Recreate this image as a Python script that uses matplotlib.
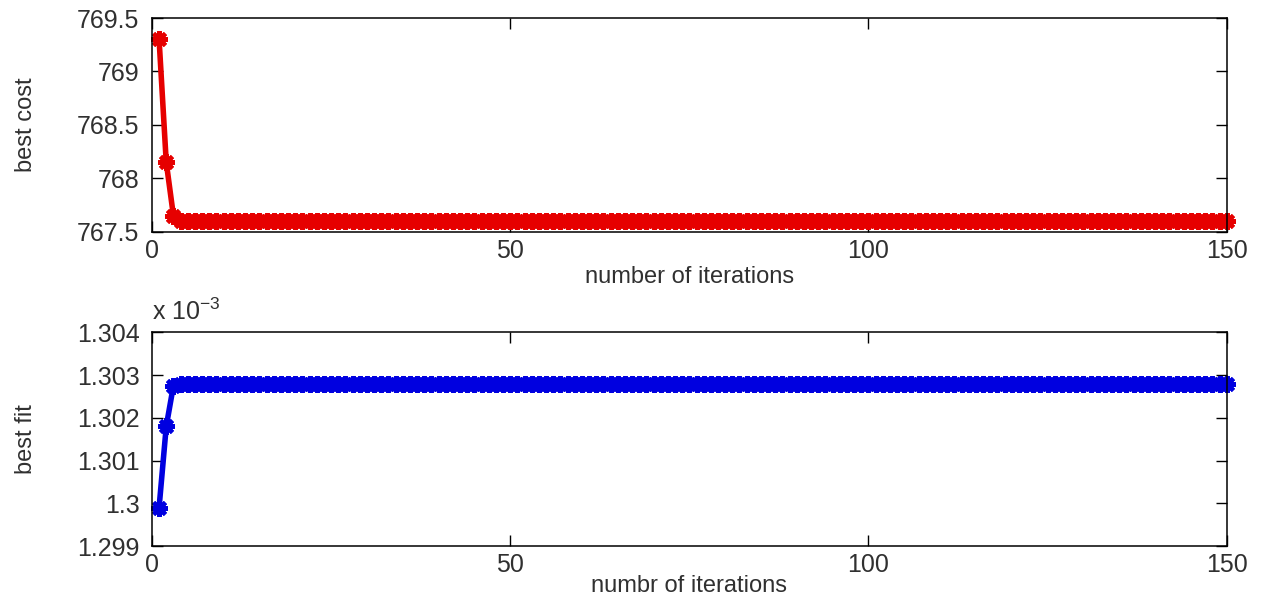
import numpy as np
import matplotlib
matplotlib.use("Agg")
import matplotlib.pyplot as plt
from matplotlib.ticker import FuncFormatter

# Values (MATLAB-style convergence plot)
iterations = np.arange(1, 151)
bestCost = [769.3, 768.15, 767.65] + [767.6] * 147
bestFit = [1.2999e-3, 1.3018e-3, 1.30275e-3] + [1.3028e-3] * 147

xTicks = [0, 50, 100, 150]
costTicks = [767.5, 768, 768.5, 769, 769.5]
fitTicks = [1.299e-3, 1.300e-3, 1.301e-3, 1.302e-3, 1.303e-3, 1.304e-3]

plt.rcParams['font.family'] = ['Liberation Sans', 'DejaVu Sans']
plt.rcParams['mathtext.fontset'] = 'custom'
plt.rcParams['mathtext.rm'] = 'Liberation Sans'
plt.rcParams['mathtext.default'] = 'regular'

fontSize = 18
labelSize = 17
textColor = '#303030'
asterisk = (8, 2, 0)

fig = plt.figure(figsize=(12.66, 6.02), dpi=100)
axCost = fig.add_axes([0.120, 0.615, 0.849, 0.355])
axFit = fig.add_axes([0.120, 0.093, 0.849, 0.355])


def styleAxis(ax):
    ax.set_xlim(0, 150)
    ax.set_xticks(xTicks)
    ax.tick_params(direction='in', length=8, width=1.0, top=True, right=True,
                   labelsize=fontSize, labelcolor=textColor)
    ax.tick_params(axis='x', pad=5)
    ax.tick_params(axis='y', pad=9)
    for spine in ax.spines.values():
        spine.set_linewidth(1.1)


axCost.plot(iterations, bestCost, color='#e60000', lw=4, marker=asterisk,
            markersize=12, markeredgewidth=3, clip_on=False)
styleAxis(axCost)
axCost.set_ylim(767.5, 769.5)
axCost.set_yticks(costTicks)
axCost.yaxis.set_major_formatter(FuncFormatter(lambda v, p: '%g' % v))
axCost.set_xlabel('number of iterations', fontsize=labelSize, color=textColor)
axCost.set_ylabel('best cost', fontsize=labelSize, color=textColor)
axCost.xaxis.set_label_coords(0.5, -0.16)
axCost.yaxis.set_label_coords(-0.107, 0.5)

axFit.plot(iterations, bestFit, color='#0000e0', lw=4, marker=asterisk,
           markersize=12, markeredgewidth=3, clip_on=False)
styleAxis(axFit)
axFit.set_ylim(1.299e-3, 1.304e-3)
axFit.set_yticks(fitTicks)
axFit.yaxis.set_major_formatter(FuncFormatter(lambda v, p: '%g' % round(v * 1e3, 6)))
axFit.text(0.0, 1.035, r'x 10$^{-3}$', transform=axFit.transAxes,
           fontsize=fontSize, color=textColor, ha='left', va='bottom')
axFit.set_xlabel('numbr of iterations', fontsize=labelSize, color=textColor)
axFit.set_ylabel('best fit', fontsize=labelSize, color=textColor)
axFit.xaxis.set_label_coords(0.5, -0.135)
axFit.yaxis.set_label_coords(-0.107, 0.5)

fig.savefig('out.png', dpi=100)
